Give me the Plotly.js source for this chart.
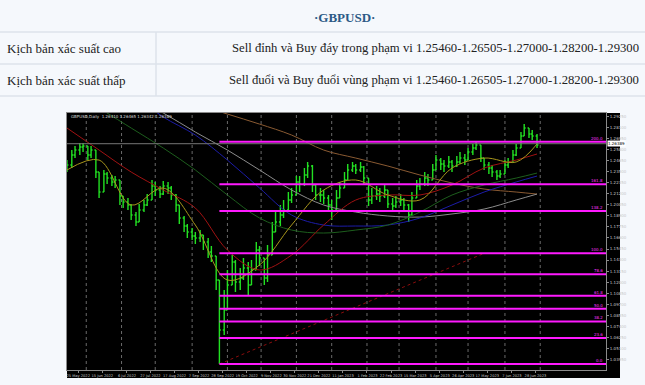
<!DOCTYPE html>
<html>
<head>
<meta charset="utf-8">
<script src="https://cdn.plot.ly/plotly-3.0.1.min.js"></script>
<style>
  html, body { margin: 0; padding: 0; background: #f5f8fc; }
  #chart { width: 645px; height: 385px; }
</style>
</head>
<body>
<div id="chart"></div>
<script>
// ---------- table texts ----------
const tableTitle = "·GBPUSD·";
const rowLabels = ["Kịch bản xác suất cao", "Kịch bản xác suất thấp"];
const rowTexts = [
  "Sell đỉnh và Buy đáy trong phạm vi 1.25460-1.26505-1.27000-1.28200-1.29300",
  "Sell đuổi và Buy đuổi vùng phạm vi 1.25460-1.26505-1.27000-1.28200-1.29300"
];

// ---------- price bars (GBPUSD, sampled twice a week) ----------
const barDates = [
"2022-05-16","2022-05-19","2022-05-23","2022-05-26","2022-05-30","2022-06-02","2022-06-06","2022-06-09","2022-06-13","2022-06-16",
"2022-06-20","2022-06-23","2022-06-27","2022-06-30","2022-07-04","2022-07-07","2022-07-11","2022-07-14","2022-07-18","2022-07-21",
"2022-07-25","2022-07-28","2022-08-01","2022-08-04","2022-08-08","2022-08-11","2022-08-15","2022-08-18","2022-08-22","2022-08-25",
"2022-08-29","2022-09-01","2022-09-05","2022-09-08","2022-09-12","2022-09-15","2022-09-19","2022-09-22","2022-09-26","2022-09-29",
"2022-10-03","2022-10-06","2022-10-10","2022-10-13","2022-10-17","2022-10-20","2022-10-24","2022-10-27","2022-10-31","2022-11-03",
"2022-11-07","2022-11-10","2022-11-14","2022-11-17","2022-11-21","2022-11-24","2022-11-28","2022-12-01","2022-12-05","2022-12-08",
"2022-12-12","2022-12-15","2022-12-19","2022-12-22","2022-12-26","2022-12-29","2023-01-02","2023-01-05","2023-01-09","2023-01-12",
"2023-01-16","2023-01-19","2023-01-23","2023-01-26","2023-01-30","2023-02-02","2023-02-06","2023-02-09","2023-02-13","2023-02-16",
"2023-02-20","2023-02-23","2023-02-27","2023-03-02","2023-03-06","2023-03-09","2023-03-13","2023-03-16","2023-03-20","2023-03-23",
"2023-03-27","2023-03-30","2023-04-03","2023-04-06","2023-04-10","2023-04-13","2023-04-17","2023-04-20","2023-04-24","2023-04-27",
"2023-05-01","2023-05-04","2023-05-08","2023-05-11","2023-05-15","2023-05-18","2023-05-22","2023-05-25","2023-05-29","2023-06-01",
"2023-06-05","2023-06-08","2023-06-12","2023-06-15","2023-06-19","2023-06-22","2023-06-26","2023-06-29"];

const barOpen = [
1.2366,1.2418,1.2521,1.2573,1.2605,1.2615,1.2521,1.2573,1.2345,1.2137,
1.2324,1.2282,1.2241,1.2262,1.2095,1.2033,1.2002,1.1898,1.1825,1.1950,
1.2002,1.2054,1.2199,1.2158,1.2116,1.2199,1.2179,1.2106,1.2002,1.1867,
1.1784,1.1721,1.1680,1.1659,1.1690,1.1618,1.1514,1.1472,1.1223,1.0703,
1.0911,1.1171,1.1410,1.1202,1.1244,1.1347,1.1171,1.1327,1.1534,1.1451,
1.1244,1.1482,1.1721,1.1825,1.1898,1.1950,1.2054,1.2106,1.2241,1.2220,
1.2314,1.2407,1.2210,1.2106,1.2106,1.2075,1.2002,1.1950,1.2075,1.2179,
1.2262,1.2366,1.2407,1.2366,1.2397,1.2282,1.2054,1.2095,1.2116,1.2095,
1.2158,1.2012,1.1992,1.2033,1.2054,1.2002,1.1898,1.2075,1.2199,1.2220,
1.2282,1.2262,1.2366,1.2469,1.2428,1.2407,1.2449,1.2407,1.2449,1.2490,
1.2469,1.2553,1.2594,1.2625,1.2490,1.2418,1.2386,1.2345,1.2303,1.2324,
1.2418,1.2449,1.2521,1.2594,1.2719,1.2802,1.2740,1.2719];

const barHigh = [
1.2469,1.2573,1.2615,1.2646,1.2646,1.2615,1.2615,1.2573,1.2345,1.2366,
1.2345,1.2314,1.2303,1.2262,1.2095,1.2075,1.2012,1.1929,1.2012,1.2054,
1.2116,1.2262,1.2241,1.2199,1.2251,1.2241,1.2199,1.2116,1.2002,1.1888,
1.1805,1.1763,1.1721,1.1742,1.1690,1.1659,1.1576,1.1472,1.1223,1.1119,
1.1327,1.1482,1.1431,1.1347,1.1451,1.1410,1.1431,1.1618,1.1576,1.1451,
1.1586,1.1825,1.1929,1.2002,1.2054,1.2137,1.2179,1.2303,1.2303,1.2386,
1.2449,1.2418,1.2210,1.2179,1.2158,1.2106,1.2054,1.2158,1.2241,1.2345,
1.2428,1.2449,1.2428,1.2449,1.2407,1.2282,1.2179,1.2199,1.2179,1.2220,
1.2158,1.2075,1.2095,1.2116,1.2075,1.2012,1.2137,1.2262,1.2282,1.2345,
1.2324,1.2428,1.2521,1.2490,1.2469,1.2511,1.2469,1.2511,1.2553,1.2532,
1.2594,1.2636,1.2656,1.2625,1.2490,1.2449,1.2418,1.2366,1.2366,1.2469,
1.2490,1.2573,1.2636,1.2760,1.2843,1.2802,1.2781,1.2740];

const barLow = [
1.2345,1.2386,1.2490,1.2521,1.2553,1.2469,1.2490,1.2282,1.2075,1.2137,
1.2220,1.2199,1.2179,1.2002,1.1971,1.1950,1.1846,1.1784,1.1825,1.1929,
1.1992,1.2054,1.2095,1.2075,1.2106,1.2116,1.2054,1.1929,1.1805,1.1721,
1.1659,1.1638,1.1597,1.1618,1.1534,1.1451,1.1410,1.1119,1.0350,1.0651,
1.0911,1.1171,1.1098,1.1119,1.1223,1.1057,1.1171,1.1327,1.1368,1.1171,
1.1202,1.1482,1.1721,1.1784,1.1867,1.1950,1.2022,1.2106,1.2137,1.2199,
1.2282,1.2137,1.2054,1.2033,1.2012,1.1929,1.1846,1.1950,1.2075,1.2179,
1.2262,1.2345,1.2324,1.2345,1.2220,1.1992,1.2012,1.2054,1.2033,1.2075,
1.1971,1.1950,1.1971,1.1992,1.1950,1.1825,1.1898,1.2075,1.2158,1.2199,
1.2199,1.2262,1.2366,1.2366,1.2345,1.2386,1.2345,1.2397,1.2428,1.2418,
1.2469,1.2521,1.2573,1.2449,1.2366,1.2324,1.2293,1.2262,1.2282,1.2324,
1.2386,1.2449,1.2511,1.2594,1.2719,1.2698,1.2677,1.2594];

const barClose = [
1.2418,1.2521,1.2573,1.2605,1.2615,1.2521,1.2573,1.2345,1.2137,1.2324,
1.2282,1.2241,1.2262,1.2095,1.2033,1.2002,1.1898,1.1825,1.1950,1.2002,
1.2054,1.2199,1.2158,1.2116,1.2199,1.2179,1.2106,1.2002,1.1867,1.1784,
1.1721,1.1680,1.1659,1.1690,1.1618,1.1514,1.1472,1.1223,1.0703,1.0911,
1.1171,1.1410,1.1202,1.1244,1.1347,1.1171,1.1327,1.1534,1.1451,1.1244,
1.1482,1.1721,1.1825,1.1898,1.1950,1.2054,1.2106,1.2241,1.2220,1.2314,
1.2407,1.2210,1.2106,1.2106,1.2075,1.2002,1.1950,1.2075,1.2179,1.2262,
1.2366,1.2407,1.2366,1.2397,1.2282,1.2054,1.2095,1.2116,1.2095,1.2158,
1.2012,1.1992,1.2033,1.2054,1.2002,1.1898,1.2075,1.2199,1.2220,1.2282,
1.2262,1.2366,1.2469,1.2428,1.2407,1.2449,1.2407,1.2449,1.2490,1.2469,
1.2553,1.2594,1.2625,1.2490,1.2418,1.2386,1.2345,1.2303,1.2324,1.2418,
1.2449,1.2521,1.2594,1.2719,1.2802,1.2740,1.2719,1.2625];

// ---------- moving averages (read at sparse dates) ----------
const maYellowDates = ["2022-05-16","2022-06-13","2022-07-11","2022-08-08","2022-09-05","2022-10-03","2022-10-31","2022-11-28","2022-12-26","2023-01-23","2023-02-20","2023-03-20","2023-04-17","2023-05-15","2023-06-12","2023-06-29"];
const maYellow = [1.2366,1.2469,1.2002,1.2179,1.1794,1.1223,1.1379,1.1794,1.2158,1.2262,1.2106,1.2054,1.2386,1.2490,1.2449,1.2636];
const maRed = [1.2802,1.2573,1.2345,1.2158,1.1971,1.1534,1.1327,1.1482,1.1794,1.2054,1.2106,1.2106,1.2210,1.2386,1.2469,1.2532];
const maGreenDates = ["2022-06-13","2022-07-11","2022-08-08","2022-09-05","2022-10-03","2022-10-31","2022-11-28","2022-12-26","2023-01-23","2023-02-20","2023-03-20","2023-04-17","2023-05-15","2023-06-12","2023-06-29"];
const maGreen = [1.3010,1.2802,1.2594,1.2366,1.2106,1.1867,1.1742,1.1711,1.1742,1.1794,1.1929,1.2106,1.2210,1.2282,1.2334];
const maBlueDates = ["2022-07-25","2022-08-08","2022-09-05","2022-10-03","2022-10-31","2022-11-28","2022-12-26","2023-01-23","2023-02-20","2023-03-20","2023-04-17","2023-05-15","2023-06-12","2023-06-29"];
const maBlue = [1.3041,1.2916,1.2729,1.2469,1.2179,1.1898,1.1794,1.1784,1.1794,1.1867,1.2002,1.2137,1.2241,1.2303];
const maGrayDates = ["2022-07-11","2022-08-08","2022-09-05","2022-10-03","2022-10-31","2022-11-28","2022-12-26","2023-01-23","2023-02-20","2023-03-20","2023-04-17","2023-05-15","2023-06-12","2023-06-29"];
const maGray = [1.3124,1.2958,1.2760,1.2573,1.2366,1.2158,1.2002,1.1929,1.1888,1.1877,1.1909,1.1960,1.2054,1.2116];
const maBrownDates = ["2022-09-05","2022-10-03","2022-10-31","2022-11-28","2022-12-26","2023-01-23","2023-02-20","2023-03-20","2023-04-17","2023-05-15","2023-06-12","2023-06-29"];
const maBrown = [1.3051,1.2947,1.2843,1.2729,1.2573,1.2490,1.2407,1.2314,1.2231,1.2168,1.2137,1.2116];

// ---------- Fibonacci levels ----------
const fibLabels = ["0.0","23.6","38.2","50.0","61.8","78.6","100.0","138.2","161.8","200.0"];
const fibLevels = [1.0350,1.0620,1.0792,1.0925,1.1060,1.1282,1.1500,1.1940,1.2217,1.2660];
const fibStart = "2022-09-26";
const fibAnchorDates = ["2022-09-26","2023-05-15"];
const fibAnchorPrices = [1.0350,1.1500];

// ---------- axes ----------
const xRange = ["2022-05-16","2023-08-29"];
const yRange = [1.0288, 1.2958];
const monthGrid = ["2022-06-01","2022-07-01","2022-08-01","2022-09-01","2022-10-03","2022-11-01","2022-12-01","2023-01-02","2023-02-01","2023-03-01","2023-04-03","2023-05-01","2023-06-01","2023-07-03"];
const dateTicks = ["2022-05-25","2022-06-15","2022-07-06","2022-07-27","2022-08-17","2022-09-07","2022-09-28","2022-10-19","2022-11-09","2022-11-30","2022-12-21","2023-01-11","2023-02-01","2023-02-22","2023-03-15","2023-04-05","2023-04-26","2023-05-17","2023-06-07","2023-06-28"];
const bidPrice = 1.2639;
const bidText = "1.26389";
const infoText = "GBPUSD,Daily  1.26410 1.26465 1.26342 1.26389";

// ---------- geometry helpers (pixels -> paper) ----------
const W = 645, H = 385;
const px = x => x / W;
const py = y => 1 - y / H;

const traces = [];

// MAs
const maDefs = [
  [maBrownDates, maBrown, "#8a5a32"],
  [maGrayDates, maGray, "#8c8c8c"],
  [maBlueDates, maBlue, "#1c1ca8"],
  [maGreenDates, maGreen, "#1d5e1d"],
  [maYellowDates, maRed, "#a01212"],
  [maYellowDates, maYellow, "#a8961c"]
];
maDefs.forEach(d => traces.push({
  type: "scatter", mode: "lines", x: d[0], y: d[1],
  line: { color: d[2], width: 1, shape: "spline", smoothing: 1 }, hoverinfo: "skip"
}));

// fib diagonal
traces.push({
  type: "scatter", mode: "lines", x: fibAnchorDates, y: fibAnchorPrices,
  line: { color: "#8b0d0d", width: 1, dash: "dot" }, hoverinfo: "skip"
});

// bid line
traces.push({
  type: "scatter", mode: "lines", x: xRange, y: [bidPrice, bidPrice],
  line: { color: "#777777", width: 1 }, hoverinfo: "skip"
});

// fib levels
const fx = [], fy = [];
fibLevels.forEach(v => { fx.push(fibStart, xRange[1], null); fy.push(v, v, null); });
traces.push({
  type: "scatter", mode: "lines", x: fx, y: fy,
  line: { color: "#ff1aff", width: 2 }, hoverinfo: "skip"
});

// bars
traces.push({
  type: "ohlc", x: barDates, open: barOpen, high: barHigh, low: barLow, close: barClose,
  increasing: { line: { color: "#22e022", width: 1.4 } },
  decreasing: { line: { color: "#22e022", width: 1.4 } },
  tickwidth: 0.3, hoverinfo: "skip"
});

// ---------- shapes ----------
const shapes = [];
shapes.push({ type: "rect", xref: "paper", yref: "paper", x0: px(67), x1: px(620), y0: py(378), y1: py(113),
  fillcolor: "#000000", line: { width: 0 }, layer: "below" });
[32, 64, 96].forEach(y => shapes.push({ type: "line", xref: "paper", yref: "paper",
  x0: 0, x1: 1, y0: py(y), y1: py(y), line: { color: "#dce3eb", width: 1.5 } }));
shapes.push({ type: "line", xref: "paper", yref: "paper", x0: px(156), x1: px(156), y0: py(32), y1: py(96),
  line: { color: "#dce3eb", width: 1.5 } });
monthGrid.forEach(d => shapes.push({ type: "line", xref: "x", yref: "paper", x0: d, x1: d,
  y0: py(370), y1: py(113), line: { color: "#6a6a6a", width: 1, dash: "dot" }, layer: "below" }));

// ---------- annotations ----------
const annotations = [];
annotations.push({ xref: "paper", yref: "paper", x: px(345), y: py(17), text: "<b>" + tableTitle + "</b>",
  showarrow: false, xanchor: "center", yanchor: "middle",
  font: { family: "Liberation Serif, serif", size: 13, color: "#2c5a86" } });
rowLabels.forEach((t, i) => annotations.push({ xref: "paper", yref: "paper", x: px(5), y: py(48 + 32 * i), text: t,
  showarrow: false, xanchor: "left", yanchor: "middle",
  font: { family: "Liberation Serif, serif", size: 13, color: "#222222" } }));
rowTexts.forEach((t, i) => annotations.push({ xref: "paper", yref: "paper", x: px(641), y: py(48 + 32 * i), text: t,
  showarrow: false, xanchor: "right", yanchor: "middle",
  font: { family: "Liberation Serif, serif", size: 12.7, color: "#222222" } }));
fibLabels.forEach((t, i) => annotations.push({ xref: "paper", yref: "y", x: px(605), y: fibLevels[i], text: t,
  showarrow: false, xanchor: "right", yanchor: "bottom", yshift: -1,
  font: { family: "DejaVu Sans", size: 4, color: "#ff33ff" } }));
annotations.push({ xref: "paper", yref: "paper", x: px(69), y: py(116), text: infoText, showarrow: false,
  xanchor: "left", yanchor: "middle", font: { family: "DejaVu Sans", size: 4, color: "#dddddd" } });
annotations.push({ xref: "paper", yref: "y", x: px(607), y: bidPrice, text: bidText, showarrow: false,
  xanchor: "left", yanchor: "middle", bgcolor: "#ffffff", borderpad: 0,
  font: { family: "DejaVu Sans", size: 4, color: "#000000" } });

const layout = {
  width: W, height: H,
  margin: { l: 0, r: 0, t: 0, b: 0 },
  paper_bgcolor: "#f5f8fc",
  plot_bgcolor: "#000000",
  showlegend: false,
  hovermode: false,
  xaxis: {
    type: "date", range: xRange, domain: [px(67), px(606)],
    rangebreaks: [{ bounds: ["sat", "mon"] }],
    showgrid: false, zeroline: false,
    showline: true, linecolor: "#8a8a8a", linewidth: 1, mirror: true,
    tickmode: "array", tickvals: dateTicks, tickformat: "%e %b %Y", tickangle: 0,
    ticks: "outside", ticklen: 2, tickcolor: "#8a8a8a",
    tickfont: { family: "DejaVu Sans", size: 3.6, color: "#c8c8c8" },
    rangeslider: { visible: false }, fixedrange: true
  },
  yaxis: {
    range: yRange, domain: [py(370), py(113)], side: "right",
    showgrid: false, zeroline: false,
    showline: true, linecolor: "#8a8a8a", linewidth: 1, mirror: true,
    tickmode: "linear", tick0: 1.0280, dtick: 0.0115, tickformat: ".5f",
    ticks: "outside", ticklen: 2, tickcolor: "#8a8a8a",
    tickfont: { family: "DejaVu Sans", size: 4, color: "#c8c8c8" }, fixedrange: true
  },
  shapes: shapes,
  annotations: annotations
};

Plotly.newPlot("chart", traces, layout, { displayModeBar: false, staticPlot: true });
</script>
</body>
</html>
